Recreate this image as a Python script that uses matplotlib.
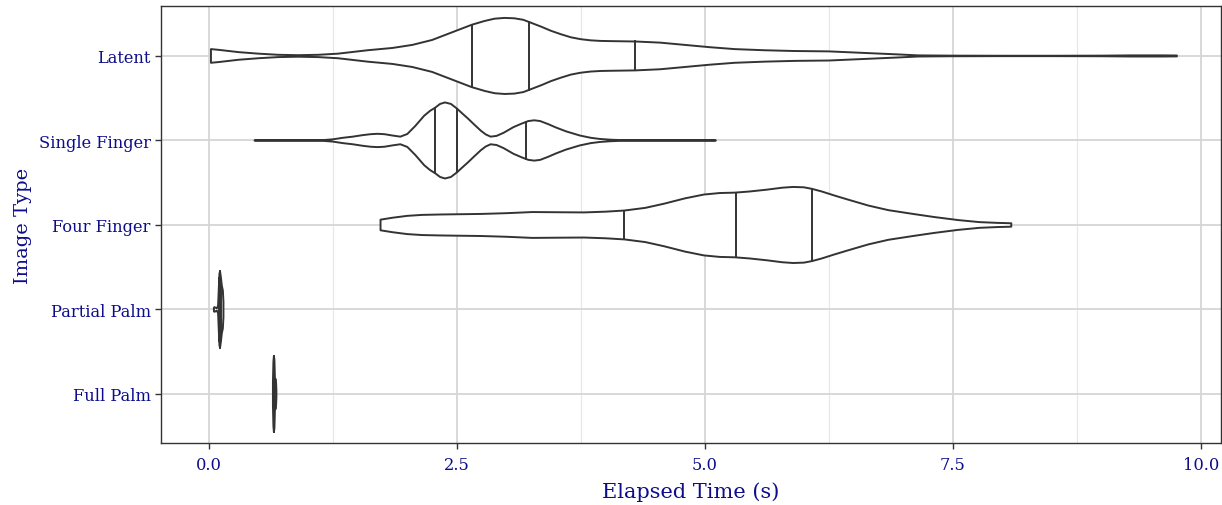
import numpy as np
import matplotlib.pyplot as plt

# image types, bottom to top as drawn
types = ['Full Palm', 'Partial Palm', 'Four Finger', 'Single Finger', 'Latent']

# violin outlines: elapsed time (s) and relative density
full_x = [0.645, 0.650, 0.655, 0.660, 0.665, 0.670, 0.675, 0.680]
full_d = [0.30, 0.85, 1.00, 0.90, 0.42, 0.40, 0.38, 0.10]

partial_x = [0.050, 0.055, 0.065, 0.080, 0.092, 0.100, 0.106, 0.112, 0.120, 0.130, 0.140, 0.146]
partial_d = [0.05, 0.06, 0.05, 0.03, 0.10, 0.60, 0.95, 1.00, 0.85, 0.62, 0.50, 0.20]

four_x = [1.73, 1.85, 2.00, 2.15, 2.34, 2.74, 3.00, 3.26, 3.50, 3.78, 4.00, 4.19,
          4.40, 4.59, 4.80, 4.99, 5.15, 5.30, 5.45, 5.63, 5.78, 5.89, 6.00, 6.08,
          6.18, 6.30, 6.44, 6.65, 6.85, 7.10, 7.31, 7.55, 7.77, 7.95, 8.09]
four_d = [0.14, 0.19, 0.24, 0.265, 0.276, 0.29, 0.31, 0.34, 0.335, 0.33, 0.35, 0.38,
          0.45, 0.56, 0.70, 0.80, 0.84, 0.85, 0.88, 0.93, 0.98, 1.00, 0.99, 0.95,
          0.88, 0.78, 0.67, 0.51, 0.39, 0.29, 0.21, 0.13, 0.075, 0.055, 0.045]

single_x = [0.46, 0.80, 1.15, 1.25, 1.35, 1.45, 1.55, 1.63, 1.70, 1.77, 1.85, 1.93,
            2.00, 2.08, 2.17, 2.23, 2.28, 2.33, 2.38, 2.44, 2.50, 2.55, 2.61, 2.67,
            2.74, 2.79, 2.84, 2.90, 2.97, 3.07, 3.15, 3.22, 3.28, 3.34, 3.42, 3.50,
            3.60, 3.74, 3.85, 3.94, 4.05, 4.15, 4.50, 5.11]
single_d = [0.005, 0.005, 0.01, 0.03, 0.07, 0.10, 0.14, 0.165, 0.175, 0.165, 0.13, 0.10,
            0.17, 0.38, 0.65, 0.78, 0.86, 0.96, 1.00, 0.96, 0.84, 0.72, 0.58, 0.43,
            0.26, 0.16, 0.10, 0.12, 0.20, 0.35, 0.44, 0.51, 0.53, 0.51, 0.43, 0.34,
            0.24, 0.13, 0.07, 0.04, 0.02, 0.01, 0.005, 0.005]

latent_x = [0.02, 0.10, 0.30, 0.50, 0.70, 0.90, 1.10, 1.30, 1.60, 1.85, 2.05, 2.25,
            2.45, 2.65, 2.78, 2.88, 2.98, 3.08, 3.17, 3.25, 3.35, 3.45, 3.55, 3.65,
            3.75, 3.85, 3.95, 4.05, 4.30, 4.55, 4.80, 5.05, 5.30, 5.60, 5.90, 6.25,
            6.60, 6.95, 7.15, 7.50, 8.00, 8.50, 9.00, 9.30, 9.60, 9.76]
latent_d = [0.18, 0.16, 0.10, 0.06, 0.03, 0.02, 0.03, 0.06, 0.15, 0.21, 0.29, 0.42,
            0.62, 0.82, 0.92, 0.98, 1.00, 0.99, 0.95, 0.87, 0.77, 0.66, 0.57, 0.49,
            0.44, 0.41, 0.395, 0.39, 0.38, 0.35, 0.29, 0.23, 0.18, 0.15, 0.13, 0.12,
            0.08, 0.04, 0.015, 0.008, 0.005, 0.005, 0.008, 0.015, 0.015, 0.012]

# 25 / 50 / 75 % quantiles
full_q = [0.655, 0.660, 0.670]
partial_q = [0.104, 0.112, 0.122]
four_q = [4.19, 5.31, 6.08]
single_q = [2.28, 2.50, 3.20]
latent_q = [2.65, 3.23, 4.30]

profiles = [(full_x, full_d, full_q), (partial_x, partial_d, partial_q),
            (four_x, four_d, four_q), (single_x, single_d, single_q),
            (latent_x, latent_d, latent_q)]

plt.rcParams['font.family'] = ['DejaVu Serif']
text_col = '#0d0d8c'
line_col = '#333333'

fig = plt.figure(figsize=(12.22, 5.06), dpi=100)
ax = fig.add_axes([0.1318, 0.1225, 0.867, 0.8635])

half = 0.45
for i, (xs, ds, qs) in enumerate(profiles):
    pos = i + 1
    xs = np.array(xs)
    w = half * np.array(ds) / max(ds)
    px = np.concatenate([xs, xs[::-1]])
    py = np.concatenate([pos + w, (pos - w)[::-1]])
    ax.fill(px, py, facecolor='white', edgecolor=line_col, linewidth=1.4, zorder=3,
            joinstyle='round')
    for q in qs:
        h = np.interp(q, xs, w)
        ax.plot([q, q], [pos - h, pos + h], color=line_col, linewidth=1.4, zorder=4)

ax.set_xlim(-0.483, 10.20)
ax.set_ylim(0.42, 5.59)
ax.set_xticks([0, 2.5, 5, 7.5, 10])
ax.set_xticklabels(['0.0', '2.5', '5.0', '7.5', '10.0'])
ax.set_xticks([1.25, 3.75, 6.25, 8.75], minor=True)
ax.set_yticks(range(1, len(types) + 1))
ax.set_yticklabels(types)

ax.grid(which='major', color='#d6d6d6', linewidth=1.3, zorder=0)
ax.grid(which='minor', axis='x', color='#e6e6e6', linewidth=0.8, zorder=0)
ax.set_axisbelow(True)

for s in ax.spines.values():
    s.set_color(line_col)
    s.set_linewidth(1.0)

ax.tick_params(which='major', length=4, width=1.0, color=line_col,
               labelcolor=text_col, labelsize=11.7)
ax.tick_params(axis='x', which='major', pad=5)
ax.tick_params(which='minor', length=0)

ax.set_xlabel('Elapsed Time (s)', color=text_col, fontsize=15, labelpad=6)
ax.set_ylabel('Image Type', color=text_col, fontsize=14, labelpad=5)

fig.savefig('out.png', dpi=100)
